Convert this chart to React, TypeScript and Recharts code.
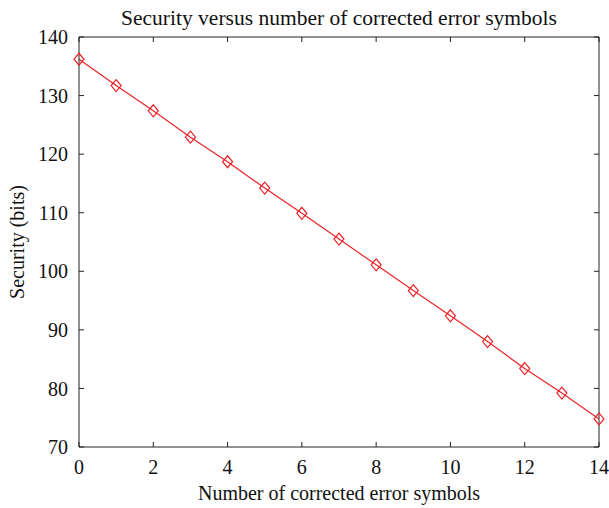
import { LineChart, Line, XAxis, YAxis, ReferenceLine } from "recharts";

const errorsCorrected = [0, 1, 2, 3, 4, 5, 6, 7, 8, 9, 10, 11, 12, 13, 14];
const securityBits = [
  136.2, 131.7, 127.4, 122.9, 118.7, 114.2, 109.9, 105.5, 101.1, 96.7, 92.4,
  88.0, 83.4, 79.2, 74.8,
];
const xTicks = [0, 2, 4, 6, 8, 10, 12, 14];
const yTicks = [70, 80, 90, 100, 110, 120, 130, 140];

const data = errorsCorrected.map((n, i) => ({ n, bits: securityBits[i] }));

const X_DOMAIN: [number, number] = [0, 14];
const Y_DOMAIN: [number, number] = [70, 140];

// plot box is 520 x 410 px, tick marks point 5px into it
const PLOT_W = 520;
const PLOT_H = 410;
const TICK_PX = 5;
const xTickLen = (TICK_PX / PLOT_W) * (X_DOMAIN[1] - X_DOMAIN[0]);
const yTickLen = (TICK_PX / PLOT_H) * (Y_DOMAIN[1] - Y_DOMAIN[0]);

const FONT = '"Liberation Serif", "DejaVu Serif", serif';
const AXIS = "#222";
const RED = "#ec2226";
const TEXT = { fill: "#111", fontSize: 20, fontFamily: FONT };

const Diamond = (props: any) => {
  const { cx, cy, index } = props;
  if (cx == null || cy == null) return null;
  const w = 5;
  const h = 6;
  return (
    <polygon
      key={index}
      points={`${cx},${cy - h} ${cx + w},${cy} ${cx},${cy + h} ${cx - w},${cy}`}
      fill="none"
      stroke={RED}
      strokeWidth={1.2}
    />
  );
};

const textStyle: React.CSSProperties = {
  position: "absolute",
  fontSize: 20,
  color: "#111",
  whiteSpace: "nowrap",
  lineHeight: "22px",
};

export default function App() {
  return (
    <div
      style={{
        position: "absolute",
        left: 0,
        top: 0,
        width: 609,
        height: 508,
        background: "#fff",
        fontFamily: FONT,
      }}
    >
      <div
        style={{
          ...textStyle,
          top: 7,
          left: 79,
          width: 520,
          textAlign: "center",
          fontSize: 21.5,
        }}
      >
        Security versus number of corrected error symbols
      </div>
      <div style={{ ...textStyle, top: 482, left: 79, width: 520, textAlign: "center" }}>
        Number of corrected error symbols
      </div>
      <div
        style={{
          ...textStyle,
          left: 17,
          top: 242,
          transform: "translate(-50%, -50%) rotate(-90deg)",
        }}
      >
        Security (bits)
      </div>

      <LineChart
        width={609}
        height={508}
        data={data}
        margin={{ top: 37, right: 10, bottom: 31, left: 9 }}
      >
        <XAxis
          dataKey="n"
          type="number"
          domain={X_DOMAIN}
          ticks={xTicks}
          height={30}
          tickLine={false}
          tickMargin={7}
          stroke={AXIS}
          tick={TEXT}
        />
        <YAxis
          type="number"
          domain={Y_DOMAIN}
          ticks={yTicks}
          width={70}
          tickLine={false}
          tickMargin={5}
          stroke={AXIS}
          tick={TEXT}
        />

        {/* top and right edges of the box */}
        <ReferenceLine y={Y_DOMAIN[1]} stroke={AXIS} />
        <ReferenceLine x={X_DOMAIN[1]} stroke={AXIS} />

        {/* inward tick marks on all four sides */}
        {xTicks.map((t) => (
          <ReferenceLine
            key={`xb${t}`}
            segment={[
              { x: t, y: Y_DOMAIN[0] },
              { x: t, y: Y_DOMAIN[0] + yTickLen },
            ]}
            stroke={AXIS}
          />
        ))}
        {xTicks.map((t) => (
          <ReferenceLine
            key={`xt${t}`}
            segment={[
              { x: t, y: Y_DOMAIN[1] },
              { x: t, y: Y_DOMAIN[1] - yTickLen },
            ]}
            stroke={AXIS}
          />
        ))}
        {yTicks.map((t) => (
          <ReferenceLine
            key={`yl${t}`}
            segment={[
              { x: X_DOMAIN[0], y: t },
              { x: X_DOMAIN[0] + xTickLen, y: t },
            ]}
            stroke={AXIS}
          />
        ))}
        {yTicks.map((t) => (
          <ReferenceLine
            key={`yr${t}`}
            segment={[
              { x: X_DOMAIN[1], y: t },
              { x: X_DOMAIN[1] - xTickLen, y: t },
            ]}
            stroke={AXIS}
          />
        ))}

        <Line
          dataKey="bits"
          stroke={RED}
          strokeWidth={1.2}
          dot={Diamond}
          isAnimationActive={false}
        />
      </LineChart>
    </div>
  );
}
